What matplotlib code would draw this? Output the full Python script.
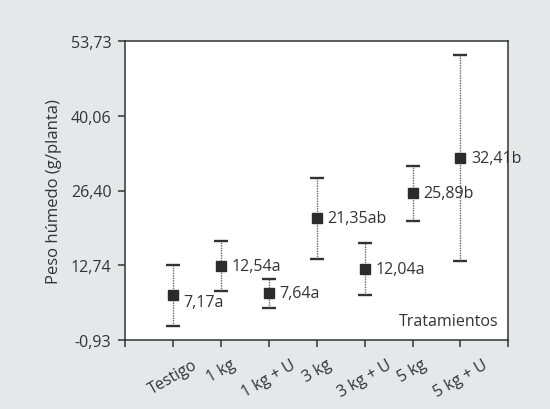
import matplotlib
matplotlib.use('Agg')
import matplotlib.pyplot as plt
import numpy as np

# Data
tratamientos = ['Testigo', '1 kg', '1 kg + U', '3 kg', '3 kg + U', '5 kg', '5 kg + U']
medias = [7.17, 12.54, 7.64, 21.35, 12.04, 25.89, 32.41]
limite_inf = [1.52, 7.93, 4.87, 13.91, 7.32, 20.88, 13.43]
limite_sup = [12.74, 17.15, 10.13, 28.76, 16.72, 30.96, 51.24]
etiquetas = ['7,17a', '12,54a', '7,64a', '21,35ab', '12,04a', '25,89b', '32,41b']
yticks = [-0.93, 12.74, 26.40, 40.06, 53.73]

plt.rcParams['font.family'] = ['Open Sans', 'DejaVu Sans']
fs = 11.5
txt_color = '#333333'

fig = plt.figure(figsize=(5.5, 4.1), dpi=100)
fig.patch.set_facecolor('#e6e7e8')
# axes box placed in pixels: left 125, right 508, top 42, bottom 341
ax = fig.add_axes([125.3 / 550, 1 - 340.7 / 410, (508.3 - 125.3) / 550, (340.7 - 42.3) / 410])
ax.set_facecolor('white')

x = np.arange(1, len(tratamientos) + 1)
medias = np.array(medias)
err = [medias - np.array(limite_inf), np.array(limite_sup) - medias]

# dotted vertical lines
ax.vlines(x, limite_inf, limite_sup, colors='#666666', linestyles=(0, (1, 0.8)), linewidth=1.0, zorder=2)
# caps only
ax.errorbar(x, medias, yerr=err, fmt='none', ecolor='#333333', elinewidth=0,
            capsize=5.2, capthick=1.7, zorder=3)
ax.plot(x, medias, 's', color='#2b2b2b', markersize=7, zorder=4)

for i, (xi, m, lab) in enumerate(zip(x, medias, etiquetas)):
    dy = -1.2 if i == 0 else 0
    ax.annotate(lab, (xi, m + dy), xytext=(7.5, 0), textcoords='offset points',
                va='center', ha='left', fontsize=fs, color=txt_color)

ax.text(0.975, 0.035, 'Tratamientos', transform=ax.transAxes, ha='right', va='bottom',
        fontsize=fs, color=txt_color)

ax.set_xlim(0, 8)
ax.set_ylim(-0.93, 53.73)
ax.set_xticks(range(0, 9))
ax.set_xticklabels([''] + tratamientos + [''], rotation=30, ha='center',
                   fontsize=fs, color=txt_color)
ax.set_yticks(yticks)
ax.set_yticklabels([f'{v:.2f}'.replace('.', ',') for v in yticks], fontsize=fs, color=txt_color)
ax.set_ylabel('Peso húmedo (g/planta)', fontsize=fs + 0.5, color=txt_color, labelpad=6)

for s in ax.spines.values():
    s.set_color('#333333')
    s.set_linewidth(1.1)
ax.tick_params(axis='both', direction='out', length=5, width=1.1, color='#333333', pad=5)
ax.tick_params(axis='x', pad=7)

fig.savefig('out.png', dpi=100, facecolor=fig.get_facecolor())
